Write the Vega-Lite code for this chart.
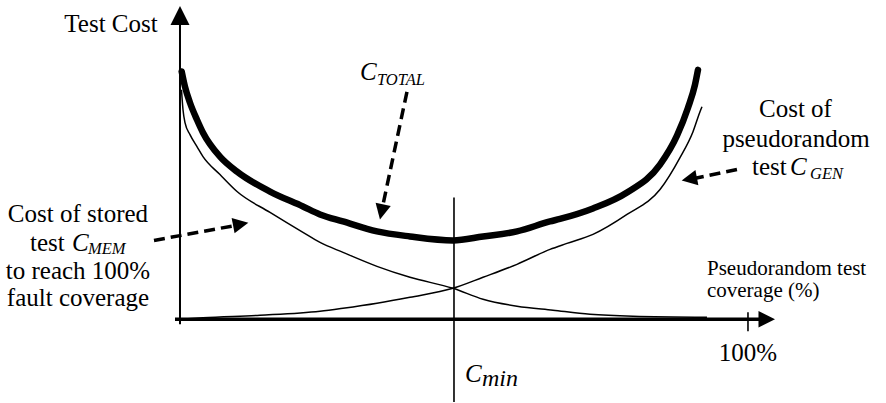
{
  "$schema": "https://vega.github.io/schema/vega-lite/v6.json",
  "width": 886,
  "height": 403,
  "autosize": {"type": "fit", "contains": "padding"},
  "padding": 0,
  "background": "white",
  "config": {"view": {"stroke": null}, "text": {"font": "'Liberation Serif', 'Times New Roman', Times, serif"}},
  "datasets": {
    "curves": [
      {"s": "total", "i": 1, "x": 0.30, "y": 79.08},
      {"s": "total", "i": 2, "x": 0.88, "y": 74.20},
      {"s": "total", "i": 3, "x": 1.76, "y": 69.11},
      {"s": "total", "i": 4, "x": 2.99, "y": 63.69},
      {"s": "total", "i": 5, "x": 4.05, "y": 59.55},
      {"s": "total", "i": 6, "x": 7.04, "y": 51.91},
      {"s": "total", "i": 7, "x": 10.04, "y": 47.13},
      {"s": "total", "i": 8, "x": 15.85, "y": 40.76},
      {"s": "total", "i": 9, "x": 21.65, "y": 35.99},
      {"s": "total", "i": 10, "x": 24.65, "y": 33.44},
      {"s": "total", "i": 11, "x": 28.70, "y": 31.21},
      {"s": "total", "i": 12, "x": 34.68, "y": 28.03},
      {"s": "total", "i": 13, "x": 40.49, "y": 26.43},
      {"s": "total", "i": 14, "x": 48.06, "y": 25.16},
      {"s": "total", "i": 15, "x": 53.35, "y": 26.43},
      {"s": "total", "i": 16, "x": 59.33, "y": 28.03},
      {"s": "total", "i": 17, "x": 65.14, "y": 31.21},
      {"s": "total", "i": 18, "x": 66.90, "y": 32.01},
      {"s": "total", "i": 19, "x": 72.71, "y": 35.35},
      {"s": "total", "i": 20, "x": 78.70, "y": 40.45},
      {"s": "total", "i": 21, "x": 84.51, "y": 49.36},
      {"s": "total", "i": 22, "x": 87.50, "y": 58.60},
      {"s": "total", "i": 23, "x": 89.44, "y": 67.52},
      {"s": "total", "i": 24, "x": 90.67, "y": 74.84},
      {"s": "total", "i": 25, "x": 91.20, "y": 79.62},
      {"s": "mem", "i": 1, "x": 0.26, "y": 73.25},
      {"s": "mem", "i": 2, "x": 0.53, "y": 66.88},
      {"s": "mem", "i": 3, "x": 0.88, "y": 62.74},
      {"s": "mem", "i": 4, "x": 1.76, "y": 58.92},
      {"s": "mem", "i": 5, "x": 2.99, "y": 55.10},
      {"s": "mem", "i": 6, "x": 4.05, "y": 51.91},
      {"s": "mem", "i": 7, "x": 7.04, "y": 46.18},
      {"s": "mem", "i": 8, "x": 10.04, "y": 40.76},
      {"s": "mem", "i": 9, "x": 15.85, "y": 34.08},
      {"s": "mem", "i": 10, "x": 21.65, "y": 27.71},
      {"s": "mem", "i": 11, "x": 24.65, "y": 24.52},
      {"s": "mem", "i": 12, "x": 28.70, "y": 21.34},
      {"s": "mem", "i": 13, "x": 34.68, "y": 16.88},
      {"s": "mem", "i": 14, "x": 40.49, "y": 13.38},
      {"s": "mem", "i": 15, "x": 48.06, "y": 9.87},
      {"s": "mem", "i": 16, "x": 53.35, "y": 6.37},
      {"s": "mem", "i": 17, "x": 59.33, "y": 4.14},
      {"s": "mem", "i": 18, "x": 65.67, "y": 2.87},
      {"s": "mem", "i": 19, "x": 72.18, "y": 1.59},
      {"s": "mem", "i": 20, "x": 79.75, "y": 0.96},
      {"s": "mem", "i": 21, "x": 92.78, "y": 0.64},
      {"s": "gen", "i": 1, "x": 0.0, "y": 0.0},
      {"s": "gen", "i": 2, "x": 4.05, "y": 0.48},
      {"s": "gen", "i": 3, "x": 14.08, "y": 1.27},
      {"s": "gen", "i": 4, "x": 24.65, "y": 2.55},
      {"s": "gen", "i": 5, "x": 28.70, "y": 3.50},
      {"s": "gen", "i": 6, "x": 34.68, "y": 5.10},
      {"s": "gen", "i": 7, "x": 40.49, "y": 7.01},
      {"s": "gen", "i": 8, "x": 48.06, "y": 9.87},
      {"s": "gen", "i": 9, "x": 53.35, "y": 13.38},
      {"s": "gen", "i": 10, "x": 59.33, "y": 17.52},
      {"s": "gen", "i": 11, "x": 65.14, "y": 22.29},
      {"s": "gen", "i": 12, "x": 68.13, "y": 24.20},
      {"s": "gen", "i": 13, "x": 72.71, "y": 27.07},
      {"s": "gen", "i": 14, "x": 78.70, "y": 33.44},
      {"s": "gen", "i": 15, "x": 84.51, "y": 41.40},
      {"s": "gen", "i": 16, "x": 88.03, "y": 51.59},
      {"s": "gen", "i": 17, "x": 90.32, "y": 59.87},
      {"s": "gen", "i": 18, "x": 91.55, "y": 66.24},
      {"s": "gen", "i": 19, "x": 91.90, "y": 67.83}
    ],
    "rules": [
      {"name": "yaxis", "x": 0, "y": -1.6, "x2": 0, "y2": 96.5},
      {"name": "xaxis", "x": -0.88, "y": 0, "x2": 102.5, "y2": 0},
      {"name": "cmin", "x": 48.24, "y": 38.85, "x2": 48.24, "y2": -26.43},
      {"name": "tick", "x": 100, "y": 2.23, "x2": 100, "y2": -3.82}
    ],
    "heads": [
      {"name": "yaxis", "x": 0, "y": 96.97},
      {"name": "xaxis", "x": 103.30, "y": 0},
      {"name": "total", "x": 35.49, "y": 34.27},
      {"name": "mem", "x": 10.69, "y": 30.32},
      {"name": "gen", "x": 89.67, "y": 44.75}
    ],
    "arrows": [
      {"a": "total", "i": 1, "x": 39.96, "y": 72.61},
      {"a": "total", "i": 2, "x": 35.56, "y": 35.03},
      {"a": "mem", "i": 1, "x": -4.58, "y": 25.16},
      {"a": "mem", "i": 2, "x": 10.74, "y": 30.25},
      {"a": "gen", "i": 1, "x": 98.06, "y": 47.77},
      {"a": "gen", "i": 2, "x": 89.61, "y": 44.59}
    ],
    "texts": [
      {"g": "center", "t": "Test Cost", "x": -12.15, "y": 91.8},
      {"g": "center", "t": "Cost of stored", "x": -17.96, "y": 30.99},
      {"g": "center", "t": "to reach 100%", "x": -17.96, "y": 12.74},
      {"g": "center", "t": "fault coverage", "x": -17.96, "y": 4.24},
      {"g": "center", "t": "Cost of", "x": 108.36, "y": 64.55},
      {"g": "center", "t": "pseudorandom", "x": 108.45, "y": 55.0},
      {"g": "center", "t": "100%", "x": 100.0, "y": -13.27},
      {"g": "left", "t": "test", "x": -26.41, "y": 21.75},
      {"g": "left", "t": "test", "x": 100.70, "y": 45.96},
      {"g": "var", "t": "C", "x": -19.01, "y": 21.75},
      {"g": "var", "t": "C", "x": 107.39, "y": 45.96},
      {"g": "var", "t": "C", "x": 31.69, "y": 76.43},
      {"g": "var", "t": "C", "x": 50.18, "y": -19.97},
      {"g": "sub", "t": "MEM", "x": -16.20, "y": 20.70},
      {"g": "sub", "t": "GEN", "x": 110.92, "y": 44.9},
      {"g": "sub", "t": "TOTAL", "x": 34.68, "y": 74.84},
      {"g": "min", "t": "min", "x": 53.17, "y": -21.24},
      {"g": "axis", "t": "Pseudorandom test", "x": 92.78, "y": 14.11},
      {"g": "axis", "t": "coverage (%)", "x": 92.78, "y": 7.07}
    ]
  },
  "encoding": {
    "x": {"field": "x", "type": "quantitative", "scale": {"domain": [-31.69, 124.30], "nice": false, "zero": false}, "axis": null},
    "y": {"field": "y", "type": "quantitative", "scale": {"domain": [-26.43, 101.91], "nice": false, "zero": false}, "axis": null}
  },
  "layer": [
    {
      "data": {"name": "rules"},
      "transform": [{"filter": "datum.name === 'yaxis'"}],
      "mark": {"type": "rule", "color": "black", "strokeWidth": 2},
      "encoding": {"x2": {"field": "x2"}, "y2": {"field": "y2"}}
    },
    {
      "data": {"name": "rules"},
      "transform": [{"filter": "datum.name === 'xaxis'"}],
      "mark": {"type": "rule", "color": "black", "strokeWidth": 3.5},
      "encoding": {"x2": {"field": "x2"}, "y2": {"field": "y2"}}
    },
    {
      "data": {"name": "rules"},
      "transform": [{"filter": "datum.name === 'cmin' || datum.name === 'tick'"}],
      "mark": {"type": "rule", "color": "black", "strokeWidth": 1.6},
      "encoding": {"x2": {"field": "x2"}, "y2": {"field": "y2"}}
    },
    {
      "data": {"name": "curves"},
      "transform": [{"filter": "datum.s !== 'total'"}],
      "mark": {"type": "line", "color": "black", "strokeWidth": 1.5, "interpolate": "monotone"},
      "encoding": {"detail": {"field": "s"}, "order": {"field": "i"}}
    },
    {
      "data": {"name": "curves"},
      "transform": [{"filter": "datum.s === 'total'"}],
      "mark": {"type": "line", "color": "black", "strokeWidth": 6.5, "strokeCap": "round", "interpolate": "monotone"},
      "encoding": {"order": {"field": "i"}}
    },
    {
      "data": {"name": "arrows"},
      "mark": {"type": "line", "color": "black", "strokeWidth": 3.5, "strokeDash": [11, 6]},
      "encoding": {"detail": {"field": "a"}, "order": {"field": "i"}}
    },
    {
      "data": {"name": "heads"},
      "transform": [{"filter": "datum.name === 'yaxis'"}],
      "mark": {"type": "point", "shape": "M0,-1L1,1L-1,1Z", "size": 361, "filled": true, "color": "black", "opacity": 1, "strokeWidth": 0}
    },
    {
      "data": {"name": "heads"},
      "transform": [{"filter": "datum.name === 'xaxis'"}],
      "mark": {"type": "point", "shape": "M0,-1L1,1L-1,1Z", "size": 272, "angle": 90, "filled": true, "color": "black", "opacity": 1, "strokeWidth": 0}
    },
    {
      "data": {"name": "heads"},
      "transform": [{"filter": "datum.name === 'total'"}],
      "mark": {"type": "point", "shape": "M0,-1L1,1L-1,1Z", "size": 240, "angle": 192, "filled": true, "color": "black", "opacity": 1, "strokeWidth": 0}
    },
    {
      "data": {"name": "heads"},
      "transform": [{"filter": "datum.name === 'mem'"}],
      "mark": {"type": "point", "shape": "M0,-1L1,1L-1,1Z", "size": 240, "angle": 79, "filled": true, "color": "black", "opacity": 1, "strokeWidth": 0}
    },
    {
      "data": {"name": "heads"},
      "transform": [{"filter": "datum.name === 'gen'"}],
      "mark": {"type": "point", "shape": "M0,-1L1,1L-1,1Z", "size": 240, "angle": 259, "filled": true, "color": "black", "opacity": 1, "strokeWidth": 0}
    },
    {
      "data": {"name": "texts"},
      "transform": [{"filter": "datum.g === 'center'"}],
      "mark": {"type": "text", "fontSize": 25, "align": "center", "baseline": "alphabetic", "color": "black"},
      "encoding": {"text": {"field": "t"}}
    },
    {
      "data": {"name": "texts"},
      "transform": [{"filter": "datum.g === 'left'"}],
      "mark": {"type": "text", "fontSize": 25, "align": "left", "baseline": "alphabetic", "color": "black"},
      "encoding": {"text": {"field": "t"}}
    },
    {
      "data": {"name": "texts"},
      "transform": [{"filter": "datum.g === 'var'"}],
      "mark": {"type": "text", "fontSize": 25, "fontStyle": "italic", "align": "left", "baseline": "alphabetic", "color": "black"},
      "encoding": {"text": {"field": "t"}}
    },
    {
      "data": {"name": "texts"},
      "transform": [{"filter": "datum.g === 'sub'"}],
      "mark": {"type": "text", "fontSize": 16.5, "fontStyle": "italic", "align": "left", "baseline": "alphabetic", "color": "black"},
      "encoding": {"text": {"field": "t"}}
    },
    {
      "data": {"name": "texts"},
      "transform": [{"filter": "datum.g === 'min'"}],
      "mark": {"type": "text", "fontSize": 24, "fontStyle": "italic", "align": "left", "baseline": "alphabetic", "color": "black"},
      "encoding": {"text": {"field": "t"}}
    },
    {
      "data": {"name": "texts"},
      "transform": [{"filter": "datum.g === 'axis'"}],
      "mark": {"type": "text", "fontSize": 21, "align": "left", "baseline": "alphabetic", "color": "black"},
      "encoding": {"text": {"field": "t"}}
    }
  ]
}
